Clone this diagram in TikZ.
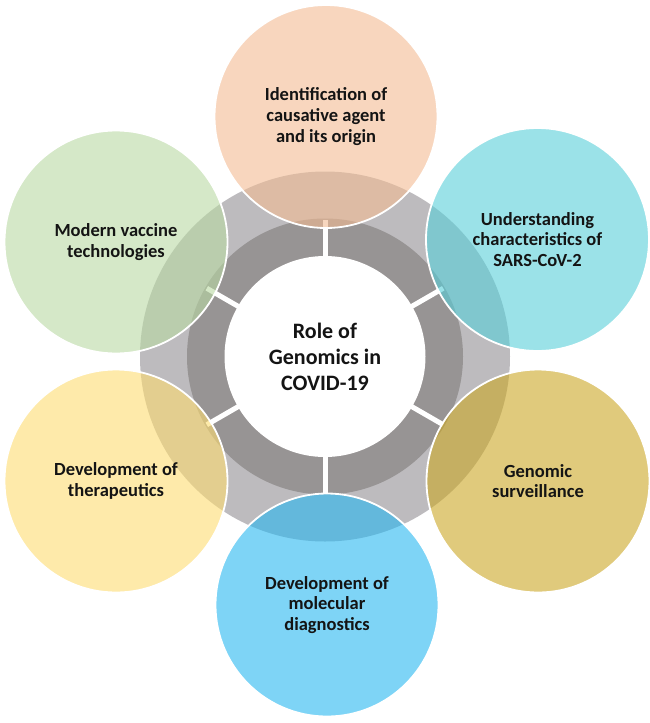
\documentclass[tikz,border=0pt]{standalone}
\usepackage{fontspec}
\setmainfont{Carlito}
\definecolor{ringlight}{HTML}{BDBBBE}
\definecolor{ringdark}{HTML}{979494}
\definecolor{cpeach}{HTML}{F3BB93}
\definecolor{cgreen}{HTML}{B9D9A3}
\definecolor{ccyan}{HTML}{58CFD9}
\definecolor{cgold}{HTML}{CBA725}
\definecolor{cblue}{HTML}{28B7F0}
\definecolor{cyellow}{HTML}{FDDC71}
\definecolor{txt}{HTML}{141414}
\begin{document}
\begin{tikzpicture}[x=1pt,y=-1pt,
  sat/.style={circle, minimum size=223pt, inner sep=0pt, draw=white, line width=1.8pt,
    fill opacity=0.6, text opacity=1, align=center, text=txt,
    font=\fontsize{18.5}{20.8}\selectfont\bfseries},
  hubstyle/.style={circle, minimum size=201pt, inner sep=0pt, fill=white, align=center,
    text=txt, font=\fontsize{22}{26}\selectfont\bfseries},
  gap/.style={white, line width=5pt}]
\useasboundingbox (0,0) rectangle (650,723);
\coordinate (c) at (325,356.5);
\fill[ringlight] (c) circle (185);
\fill[ringdark] (c) circle (138);
\foreach \a in {30,90,150,210,270,330}
  \draw[gap] (c) ++(\a:95) -- ++(\a:41.5);
\node[hubstyle] (hub) at (c) {Role of\\Genomics in\\COVID-19};
\node[sat, fill=cpeach] (s1) at (326,116.5) {Identification of\\causative agent\\and its origin};
\node[sat, fill=ccyan] (s2) at (537.5,239.5) {Understanding\\characteristics of\\SARS-CoV-2};
\node[sat, fill=cgold] (s3) at (538,481) {Genomic\\surveillance};
\node[sat, fill=cblue] (s4) at (327,605) {Development of\\molecular\\diagnostics};
\node[sat, fill=cyellow] (s5) at (116,481) {Development of\\therapeutics};
\node[sat, fill=cgreen] (s6) at (116,242) {Modern vaccine\\technologies};
\end{tikzpicture}
\end{document}
